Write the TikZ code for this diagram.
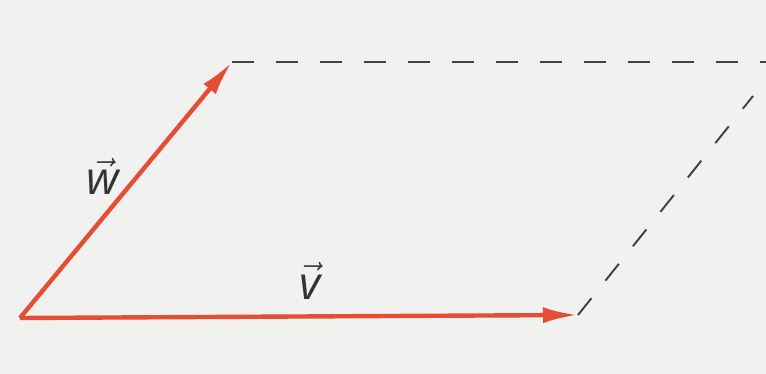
\documentclass[tikz,border=0pt]{standalone}
\usepackage{amsmath}
\usepackage{fontspec}
\setmainfont{Open Sans}
\usepackage{xcolor}
\usetikzlibrary{arrows.meta}

\definecolor{vecred}{RGB}{228,78,52}
\definecolor{paper}{RGB}{241,241,240}

\begin{document}
\begin{tikzpicture}[
      vecline/.style={draw=vecred, line width=2.5pt, -{Latex[length=7mm, width=3.2mm]}},
      helper/.style={draw=black!75, line width=1.1pt, dash pattern=on 4.3mm off 4.5mm},
      veclabel/.style={text=black!80, font=\fontsize{26}{30}\selectfont}
  ]
    \fill[paper] (0,0) rectangle (15.32,7.48);
    \useasboundingbox (0,0) rectangle (15.32,7.48);

    \coordinate (O) at (0.40,1.12);
    \coordinate (V) at (11.56,1.18);
    \coordinate (W) at (4.64,6.24);
    \coordinate (top) at (15.32,6.24);
    \coordinate (diag) at (15.06,5.56);

    \draw[helper] (W) -- (top);
    \draw[helper] (V) -- (diag);

    \draw[vecline] (O) -- (W);
    \draw[vecline] (O) -- (V);

    \node[veclabel] (wlabel) at (2.06,3.95) {$\vec{\textit{w}}$};
    \node[veclabel] (vlabel) at (6.20,1.86) {$\vec{\textit{v}}$};
  \end{tikzpicture}
\end{document}
